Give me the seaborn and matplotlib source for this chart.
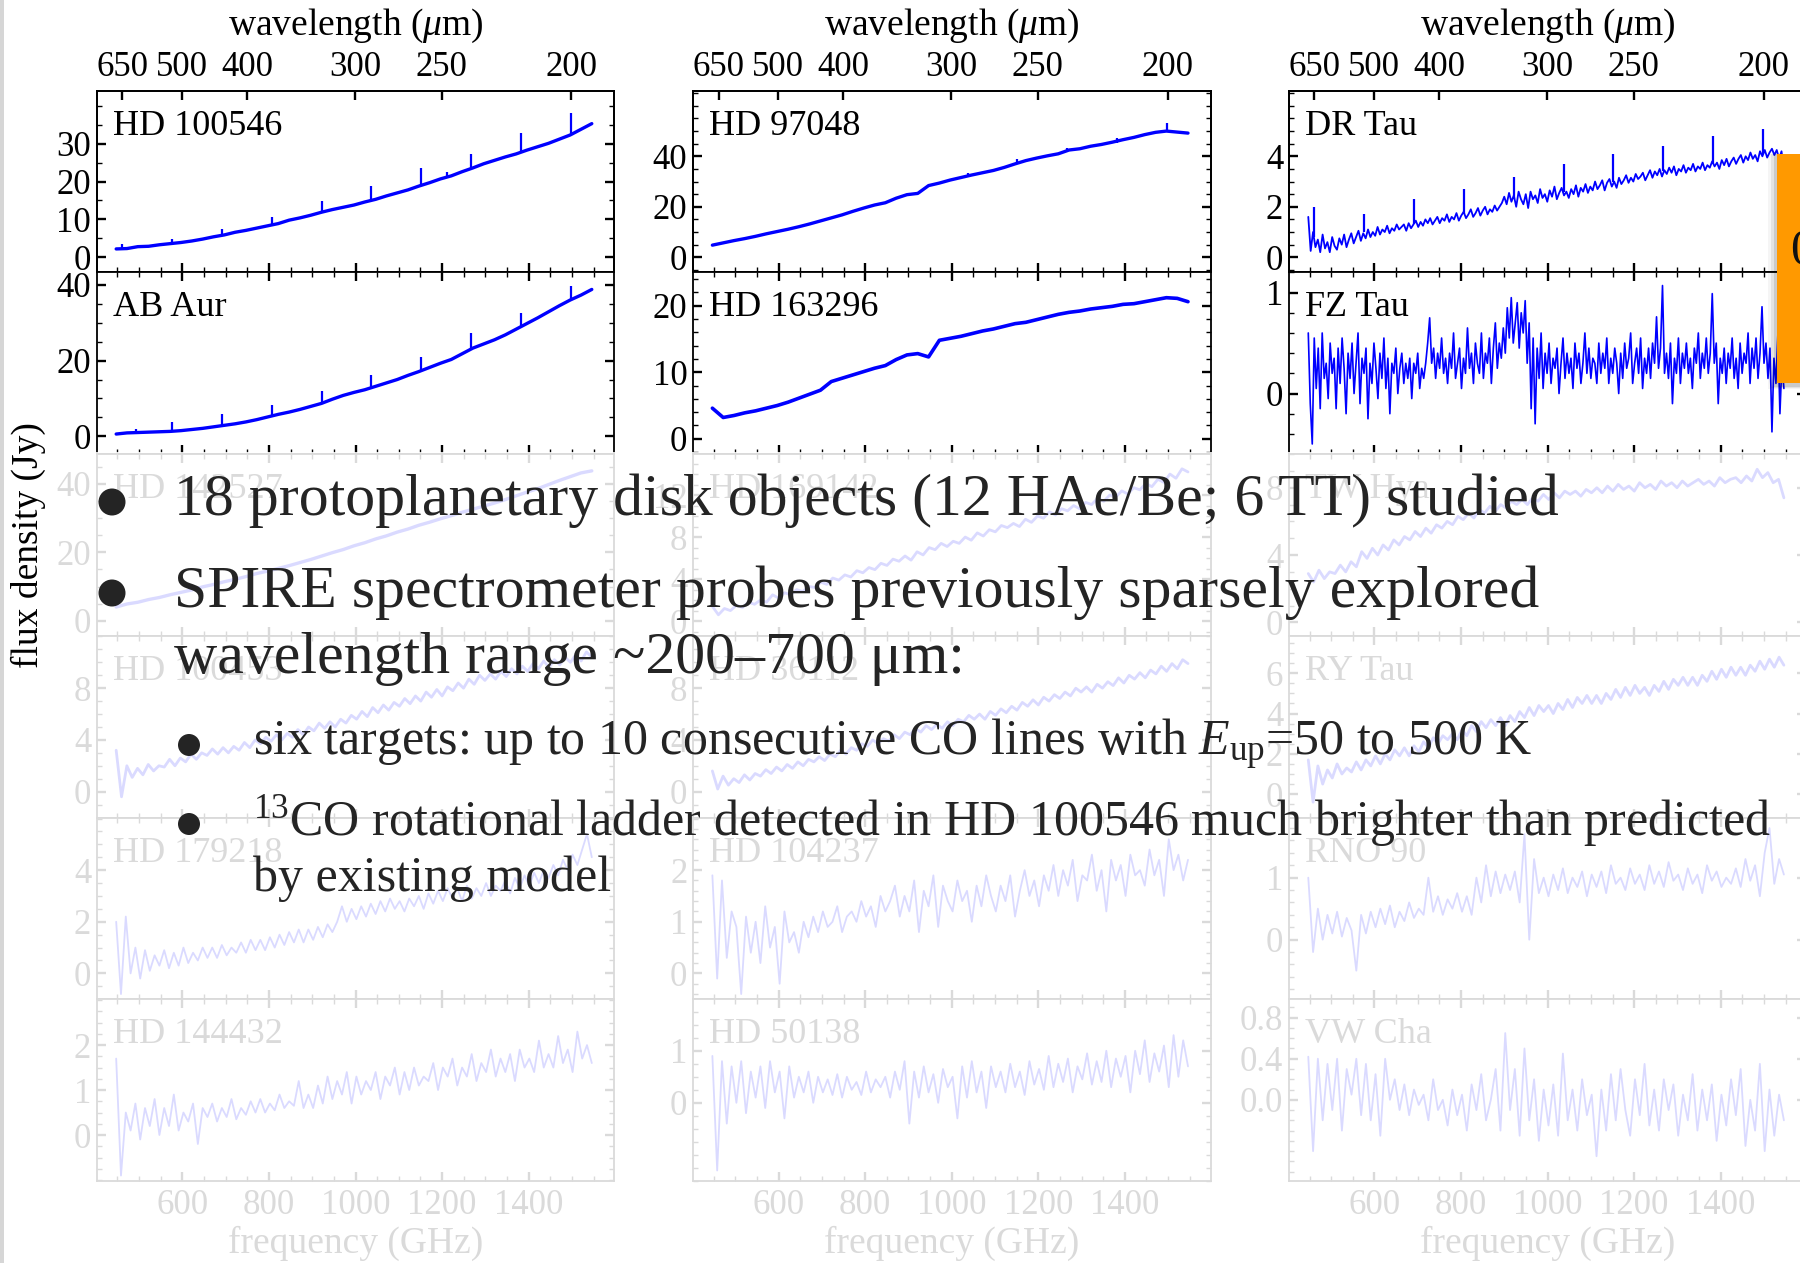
import numpy as np
import matplotlib
matplotlib.use("Agg")
import matplotlib.pyplot as plt
from matplotlib.patches import Rectangle, Ellipse
from matplotlib.ticker import FixedLocator, MultipleLocator, FormatStrFormatter, NullLocator
import seaborn as sns

# ---------------------------------------------------------------- data
# SPIRE FTS channels span 447-1546 GHz; every flux list below is sampled
# evenly over that band (Jy).
F_START, F_STOP = 447.0, 1546.0
C_UM_GHZ = 299792.458          # lambda[um] * nu[GHz]

CO_FREQ = [461.0, 576.3, 691.5, 806.7, 921.8, 1036.9, 1152.0, 1267.0, 1382.0, 1496.9]

HD100546 = [2.2, 2.3, 2.8, 2.9, 3.3, 3.6, 3.9, 4.3, 4.8, 5.4, 5.9, 6.6, 7.1, 7.7, 8.3,
            8.9, 9.8, 10.4, 11.1, 11.9, 12.6, 13.2, 13.8, 14.6, 15.3, 16.2, 17.0, 17.8,
            18.8, 19.7, 20.7, 21.5, 22.6, 23.6, 24.7, 25.6, 26.5, 27.3, 28.3, 29.2, 30.1,
            31.2, 32.3, 33.8, 35.3]
HD100546_LINE_FREQ = [461.0, 576.3, 691.5, 806.7, 921.8, 1036.9, 1152.0, 1211.3, 1267.0, 1382.0, 1496.9]
HD100546_LINE_BASE = [2.2, 3.6, 5.9, 8.5, 11.9, 15.0, 19.0, 21.2, 23.5, 27.9, 32.3]
HD100546_LINE_PEAK = [3.4, 4.9, 7.5, 10.7, 14.8, 18.8, 23.5, 22.5, 27.4, 32.7, 38.2]

HD97048 = [4.8, 5.7, 6.6, 7.4, 8.3, 9.3, 10.2, 11.1, 12.1, 13.2, 14.4, 15.6, 16.8, 18.2,
           19.5, 20.7, 21.6, 23.4, 24.8, 25.3, 28.4, 29.4, 30.6, 31.6, 32.6, 33.5, 34.4,
           35.6, 37.0, 38.3, 39.3, 40.2, 41.0, 42.5, 43.0, 44.0, 44.7, 45.6, 46.6, 47.5,
           48.6, 49.5, 50.0, 49.6, 49.2]
HD97048_LINE_FREQ = [1036.9, 1152.0, 1267.0, 1382.0, 1496.9]
HD97048_LINE_BASE = [32.0, 37.1, 42.3, 45.3, 50.0]
HD97048_LINE_PEAK = [33.5, 39.0, 43.4, 47.4, 53.1]

DR_TAU = [1.6, 0.25, 1.0, 0.4, 0.7, 0.2, 0.9, 0.35, 0.6, 0.2,
          0.8, 0.45, 0.3, 0.75, 0.5, 0.9, 0.4, 0.7, 0.95, 0.55,
          0.8, 1.05, 0.65, 0.95, 0.75, 1.1, 0.8, 1.0, 0.85, 1.2,
          0.9, 1.1, 1.0, 1.25, 0.95, 1.15, 1.05, 1.3, 1.1, 1.2,
          1.3, 1.05, 1.35, 1.15, 1.3, 1.45, 1.2, 1.4, 1.25, 1.5,
          1.35, 1.55, 1.3, 1.45, 1.6, 1.35, 1.55, 1.45, 1.7, 1.4,
          1.6, 1.5, 1.75, 1.45, 1.65, 1.8, 1.55, 1.7, 1.9, 1.6,
          1.75, 1.95, 1.65, 1.85, 2.0, 1.7, 1.9, 1.8, 2.05, 1.85,
          2.0, 2.15, 2.4, 2.1, 2.55, 2.2, 2.45, 2.0, 2.6, 2.3,
          2.1, 2.5, 1.95, 2.6, 2.3, 2.45, 2.15, 2.7, 2.35, 2.5,
          2.2, 2.65, 2.4, 2.8, 2.3, 2.55, 2.75, 2.45, 2.6, 2.35,
          2.7, 2.5, 2.85, 2.4, 2.75, 2.6, 2.9, 2.55, 2.8, 2.65,
          3.0, 2.7, 2.85, 3.05, 2.65, 2.95, 3.1, 2.8, 3.0, 2.75,
          3.15, 2.9, 3.05, 3.25, 2.95, 3.15, 3.0, 3.3, 3.1, 3.2,
          3.35, 3.05, 3.25, 3.45, 3.15, 3.4, 3.25, 3.5, 3.2, 3.45,
          3.3, 3.55, 3.35, 3.6, 3.25, 3.5, 3.4, 3.65, 3.35, 3.55,
          3.45, 3.7, 3.4, 3.6, 3.5, 3.75, 3.45, 3.65, 3.55, 3.8,
          3.6, 3.75, 3.5, 3.85, 3.65, 3.9, 3.6, 3.8, 3.95, 3.7,
          3.9, 4.05, 3.75, 4.0, 3.85, 4.15, 3.9, 4.05, 3.8, 4.2,
          4.0, 4.25, 3.95, 4.15, 4.3, 4.05, 4.25, 3.9, 4.2, 3.5]
DR_TAU_LINE_BASE = [0.8, 1.0, 1.3, 1.7, 2.3, 2.6, 3.0, 3.4, 3.7, 4.1]
DR_TAU_LINE_PEAK = [2.0, 1.7, 2.3, 2.7, 3.2, 3.7, 4.1, 4.4, 4.8, 5.1]

AB_AUR = [0.6, 0.9, 1.0, 1.1, 1.2, 1.3, 1.5, 1.8, 2.1, 2.5, 2.9, 3.3, 3.8, 4.4, 5.1,
          5.8, 6.4, 7.1, 7.9, 8.7, 9.8, 10.8, 11.6, 12.3, 13.2, 14.1, 15.0, 16.1, 17.1,
          18.2, 19.3, 20.3, 21.8, 23.3, 24.4, 25.5, 26.8, 28.3, 29.8, 31.3, 32.9, 34.5,
          36.0, 37.3, 38.8]
AB_AUR_LINE_FREQ = [492.2, 576.3, 691.5, 806.7, 921.8, 1036.9, 1152.0, 1267.0, 1382.0, 1496.9]
AB_AUR_LINE_BASE = [1.0, 1.3, 2.9, 5.2, 8.7, 12.8, 17.3, 23.0, 28.8, 36.0]
AB_AUR_LINE_PEAK = [1.8, 3.7, 5.9, 8.3, 12.1, 16.3, 21.0, 27.2, 32.5, 39.7]

HD163296 = [4.6, 3.2, 3.5, 3.9, 4.2, 4.6, 5.0, 5.5, 6.1, 6.7, 7.3, 8.6, 9.1, 9.6, 10.1,
            10.6, 11.0, 11.9, 12.6, 12.8, 12.3, 14.8, 15.1, 15.4, 15.8, 16.2, 16.5, 16.9,
            17.3, 17.5, 17.9, 18.3, 18.7, 19.0, 19.2, 19.5, 19.7, 19.9, 20.2, 20.3, 20.6,
            20.9, 21.2, 21.1, 20.6]

FZ_TAU = [0.6, -0.1, -0.5, 0.55, 0.05, 0.45, -0.15, 0.6, 0.15, 0.3,
          -0.05, 0.5, 0.2, 0.35, -0.15, 0.45, 0.1, 0.55, 0.25, -0.2,
          0.4, 0.15, 0.5, 0.0, 0.3, 0.6, -0.1, 0.35, 0.2, 0.45,
          -0.25, 0.3, 0.1, 0.5, 0.25, -0.05, 0.4, 0.15, 0.55, 0.05,
          0.35, -0.2, 0.3, 0.2, 0.45, 0.0, 0.25, 0.4, 0.1, 0.3,
          0.15, 0.35, -0.05, 0.3, 0.2, 0.4, 0.05, 0.25, 0.15, 0.3,
          0.5, 0.75, 0.3, 0.45, 0.15, 0.4, 0.25, 0.55, 0.2, 0.35,
          0.1, 0.4, 0.25, 0.6, 0.15, 0.3, 0.45, 0.05, 0.35, 0.2,
          0.65, 0.25, 0.4, 0.1, 0.5, 0.3, 0.2, 0.6, 0.15, 0.4,
          0.3, 0.55, 0.1, 0.45, 0.7, 0.25, 0.5, 0.35, 0.65, 0.4,
          0.85, 0.55, 0.95, 0.5, 0.7, 0.9, 0.45, 0.8, 0.6, 0.92,
          0.3, 0.7, -0.15, 0.55, -0.3, 0.45, 0.15, 0.6, 0.05, 0.4,
          0.2, 0.5, 0.1, 0.35, 0.25, 0.45, 0.0, 0.3, 0.55, 0.15,
          0.4, 0.2, 0.35, 0.05, 0.5, 0.25, 0.4, 0.1, 0.3, 0.6,
          0.2, 0.45, 0.15, 0.35, 0.3, 0.1, 0.5, 0.2, 0.4, 0.25,
          0.55, 0.1, 0.35, 0.2, 0.45, 0.3, 0.0, 0.4, 0.15, 0.5,
          0.25, 0.35, 0.6, 0.1, 0.3, 0.45, 0.2, 0.55, 0.05, 0.35,
          0.2, 0.45, 0.15, 0.5, 0.3, 0.76, 0.25, 0.45, 1.07, 0.2,
          0.4, 0.15, 0.5, -0.1, 0.35, 0.2, 0.55, 0.1, 0.4, 0.25,
          0.5, 0.2, 0.35, 0.05, 0.45, 0.3, 0.6, 0.15, 0.4, 0.25,
          0.55, 0.2, 0.4, 0.99, 0.3, 0.5, -0.1, 0.35, 0.2, 0.45,
          0.1, 0.4, 0.25, 0.55, 0.15, 0.35, 0.05, 0.5, 0.2, 0.4,
          0.3, 0.6, 0.1, 0.45, 0.25, 0.55, 0.15, 0.4, 0.86, 0.3,
          0.5, 0.15, 0.45, -0.38, 0.35, 0.1, 0.6, -0.2, 0.3, 0.05]

HD142527 = [4.0, 4.9, 5.4, 6.2, 6.8, 7.6, 8.3, 9.0, 9.9, 10.6, 11.4, 12.1, 12.9, 13.8,
            14.5, 15.3, 16.1, 17.0, 17.9, 18.9, 19.9, 20.8, 21.9, 22.8, 23.9, 24.8, 25.9,
            26.8, 27.9, 28.8, 29.8, 30.7, 31.7, 32.6, 33.5, 34.4, 35.4, 36.5, 37.6, 38.6,
            39.8, 41.0, 42.1, 43.2, 43.8]

HD169142 = [1.4, 0.6, 1.2, 1.0, 1.5, 1.3, 1.8, 1.6, 2.0, 1.8,
            2.5, 2.2, 2.7, 2.5, 3.0, 2.8, 3.3, 3.2, 3.7, 3.5,
            4.1, 3.9, 4.4, 4.2, 4.8, 4.6, 5.1, 4.9, 5.5, 5.3,
            5.9, 5.7, 6.2, 5.8, 6.6, 6.3, 7.0, 6.8, 7.4, 7.1,
            7.6, 7.4, 8.0, 7.7, 8.4, 8.1, 8.7, 8.5, 9.1, 8.9,
            9.3, 9.0, 9.7, 9.4, 10.0, 9.8, 10.4, 10.1, 10.7, 10.5,
            11.0, 10.7, 11.3, 11.1, 11.7, 11.4, 12.0, 11.8, 12.4, 12.1,
            12.7, 12.5, 13.1, 12.8, 13.5, 13.2, 14.0, 13.6, 14.5, 14.2]

TW_HYA = [2.9, 2.4, 3.1, 2.6, 3.0, 2.9, 3.4, 3.0, 3.6, 3.3,
          4.2, 3.8, 4.4, 4.0, 4.6, 4.3, 4.9, 4.6, 5.1, 4.9,
          5.4, 5.1, 5.6, 5.3, 5.8, 5.6, 6.0, 5.8, 6.3, 6.1,
          6.5, 6.2, 6.7, 6.5, 6.9, 6.6, 7.0, 6.8, 7.2, 7.0,
          7.3, 7.0, 7.4, 7.2, 7.6, 7.3, 7.7, 7.4, 7.8, 7.6,
          7.8, 7.5, 7.9, 7.7, 8.0, 7.7, 8.1, 7.8, 8.2, 7.9,
          8.1, 7.8, 8.3, 8.0, 8.2, 7.9, 8.4, 8.1, 8.3, 8.0,
          8.4, 8.1, 8.3, 8.5, 8.2, 8.4, 8.1, 8.6, 8.3, 8.5,
          8.6, 8.3, 8.7, 8.4, 9.1, 8.6, 8.9, 8.3, 8.5, 7.4]

HD100453 = [3.2, -0.4, 2.0, 1.1, 1.8, 1.3, 2.1, 1.6, 2.0, 1.9,
            2.5, 2.0, 2.6, 2.3, 2.9, 2.5, 3.0, 2.8, 3.3, 2.9,
            3.4, 3.0, 3.5, 3.2, 3.8, 3.4, 4.0, 3.7, 4.2, 3.9,
            4.4, 4.0, 4.5, 4.2, 4.8, 4.4, 5.0, 4.7, 5.3, 4.9,
            5.4, 5.0, 5.6, 5.3, 5.9, 5.6, 6.2, 5.8, 6.5, 6.1,
            6.7, 6.3, 6.9, 6.6, 7.2, 6.8, 7.4, 7.0, 7.7, 7.3,
            7.9, 7.4, 8.1, 7.8, 8.4, 8.0, 8.7, 8.3, 9.0, 8.6,
            9.1, 8.7, 9.3, 8.9, 9.5, 9.1, 9.7, 9.3, 9.9, 9.5,
            10.1, 9.6, 10.2, 9.8, 10.4, 10.0, 10.6, 10.1, 10.8, 10.4]

HD36112 = [1.6, 0.2, 1.2, 0.5, 1.0, 0.7, 1.3, 0.9, 1.4, 1.2,
           1.7, 1.4, 1.9, 1.6, 2.1, 1.8, 2.3, 2.0, 2.5, 2.3,
           2.7, 2.4, 2.9, 2.7, 3.2, 2.9, 3.4, 3.2, 3.7, 3.5,
           4.0, 3.7, 4.1, 3.9, 4.4, 4.1, 4.6, 4.4, 4.9, 4.6,
           5.1, 4.8, 5.2, 4.9, 5.4, 5.1, 5.6, 5.4, 5.9, 5.6,
           6.0, 5.6, 6.2, 5.9, 6.4, 6.1, 6.6, 6.3, 6.9, 6.6,
           7.1, 6.7, 7.3, 7.0, 7.5, 7.2, 7.7, 7.4, 8.0, 7.7,
           8.1, 7.7, 8.3, 8.0, 8.5, 8.2, 8.8, 8.4, 9.0, 8.7,
           9.2, 8.8, 9.4, 9.1, 9.7, 9.3, 9.9, 9.5, 10.2, 9.9]

RY_TAU = [1.7, -0.4, 1.4, 0.5, 1.2, 0.8, 1.5, 1.0, 1.3, 1.1,
          1.6, 1.2, 1.7, 1.4, 1.9, 1.5, 2.0, 1.7, 2.2, 1.9,
          2.3, 1.9, 2.4, 2.1, 2.6, 2.3, 2.8, 2.5, 2.9, 2.7,
          3.0, 2.7, 3.2, 2.9, 3.4, 3.1, 3.6, 3.3, 3.7, 3.4,
          3.8, 3.4, 3.9, 3.6, 4.1, 3.8, 4.3, 3.9, 4.4, 4.1,
          4.4, 4.0, 4.5, 4.2, 4.7, 4.3, 4.8, 4.5, 4.9, 4.5,
          4.9, 4.5, 5.0, 4.7, 5.2, 4.8, 5.3, 4.9, 5.4, 5.0,
          5.3, 4.9, 5.4, 5.1, 5.6, 5.2, 5.7, 5.4, 5.8, 5.4,
          5.8, 5.4, 5.9, 5.6, 6.1, 5.7, 6.2, 5.8, 6.3, 5.9,
          6.3, 5.9, 6.4, 6.1, 6.6, 6.2, 6.7, 6.3, 6.8, 6.4]

HD179218 = [2.0, -0.8, 2.2, 0.0, 1.0, -0.2, 0.9, 0.1, 0.7, 0.3,
            0.9, 0.2, 0.8, 0.3, 1.0, 0.4, 0.8, 0.5, 1.0, 0.6,
            1.0, 0.6, 1.1, 0.7, 1.0, 0.8, 1.2, 0.8, 1.3, 0.9,
            1.3, 0.9, 1.4, 1.0, 1.5, 1.1, 1.6, 1.2, 1.7, 1.2,
            1.7, 1.3, 1.8, 1.4, 1.9, 1.6, 2.0, 2.6, 2.0, 2.5,
            2.1, 2.6, 2.2, 2.7, 2.3, 2.8, 2.4, 2.9, 2.5, 2.8,
            2.4, 2.9, 2.6, 3.0, 2.5, 3.1, 2.7, 3.2, 2.8, 3.3,
            2.9, 3.3, 2.8, 3.4, 2.9, 3.3, 3.0, 3.5, 3.0, 3.4,
            3.2, 3.6, 3.1, 3.7, 3.3, 3.8, 3.4, 3.9, 3.5, 4.0,
            3.7, 4.2, 3.8, 4.4, 4.0, 4.6, 4.2, 4.8, 5.4, 4.5]

HD104237 = [1.9, -0.1, 1.8, 0.3, 1.2, 0.9, -0.4, 1.1, 0.4, 1.0,
            0.2, 1.3, 0.5, 0.9, -0.2, 1.2, 0.6, 0.8, 0.4, 1.0,
            0.7, 1.1, 0.8, 1.2, 0.9, 1.0, 1.3, 0.8, 1.1, 1.2,
            1.0, 1.4, 1.1, 1.3, 0.9, 1.5, 1.2, 1.4, 1.7, 1.1,
            1.5, 1.2, 1.8, 0.8, 1.6, 1.3, 1.9, 0.9, 1.7, 1.4,
            1.2, 1.8, 1.4, 1.6, 1.0, 1.7, 1.3, 1.9, 1.5, 1.2,
            1.7, 1.4, 1.9, 1.1, 1.6, 2.0, 1.5, 1.8, 1.3, 1.9,
            1.6, 2.1, 1.5, 2.0, 1.7, 2.2, 1.4, 1.9, 1.8, 2.3,
            1.6, 2.0, 1.2, 2.2, 1.8, 2.1, 1.5, 2.3, 1.9, 2.0,
            1.7, 2.4, 1.9, 2.2, 1.5, 2.6, 2.0, 2.3, 1.8, 2.2]

RNO90 = [1.0, -0.2, 0.5, 0.0, 0.4, 0.1, 0.45, 0.05, 0.35, 0.15,
         -0.5, 0.4, 0.1, 0.45, 0.2, 0.5, 0.25, 0.55, 0.2, 0.45,
         0.3, 0.6, 0.35, 0.5, 0.4, 1.0, 0.45, 0.7, 0.4, 0.65,
         0.5, 0.75, 0.45, 0.7, 0.4, 1.0, 0.6, 1.2, 0.7, 1.1,
         0.75, 1.05, 0.8, 1.1, 0.6, 1.7, 0.0, 1.3, 0.75, 1.0,
         0.7, 1.05, 0.8, 1.15, 0.75, 1.0, 0.85, 1.1, 0.7, 1.05,
         0.85, 1.1, 0.75, 1.2, 0.9, 1.0, 0.8, 1.15, 0.9, 1.05,
         0.8, 1.2, 0.9, 1.1, 0.85, 1.25, 0.95, 1.05, 0.8, 1.15,
         0.9, 1.05, 0.75, 1.2, 0.95, 1.1, 0.85, 1.0, 0.9, 1.15,
         0.85, 1.3, 0.95, 1.2, 0.7, 1.4, 1.8, 0.9, 1.3, 1.05]

HD144432 = [1.7, -0.9, 0.5, 0.1, 0.7, -0.1, 0.6, 0.2, 0.8, 0.0,
            0.6, 0.2, 0.9, 0.1, 0.5, 0.3, 0.7, -0.2, 0.6, 0.4,
            0.7, 0.3, 0.6, 0.4, 0.8, 0.35, 0.6, 0.45, 0.75, 0.5,
            0.8, 0.5, 0.7, 0.55, 0.9, 0.6, 0.75, 0.65, 1.2, 0.6,
            0.9, 0.6, 1.1, 0.7, 1.3, 0.8, 1.2, 0.9, 1.4, 0.7,
            1.3, 0.9, 1.2, 1.0, 1.4, 0.8, 1.3, 1.1, 1.5, 0.9,
            1.4, 1.0, 1.5, 1.1, 1.3, 1.2, 1.6, 1.0, 1.5, 1.3,
            1.7, 1.1, 1.5, 1.3, 1.8, 1.2, 1.6, 1.4, 1.9, 1.3,
            1.7, 1.4, 1.8, 1.2, 1.9, 1.5, 1.7, 1.4, 2.1, 1.5,
            1.8, 1.5, 2.2, 1.6, 1.9, 1.4, 2.3, 1.7, 2.0, 1.6]

HD50138 = [0.9, -1.3, 0.8, -0.4, 0.7, 0.0, 0.8, -0.2, 0.6, 0.1,
           0.7, -0.1, 0.8, 0.2, 0.6, -0.3, 0.7, 0.1, 0.5, 0.2,
           0.6, 0.0, 0.5, 0.2, 0.45, 0.15, 0.55, 0.1, 0.5, 0.25,
           0.4, 0.15, 0.6, 0.2, 0.45, 0.3, 0.5, 0.1, 0.6, 0.25,
           0.8, -0.4, 0.6, 0.1, 0.7, 0.2, 0.55, 0.0, 0.65, 0.3,
           0.5, -0.3, 0.7, 0.1, 0.8, 0.2, 0.6, -0.1, 0.7, 0.3,
           0.6, 0.2, 0.75, 0.3, 0.6, 0.15, 0.8, 0.35, 0.65, 0.25,
           0.9, 0.3, 0.75, 0.4, 0.85, 0.2, 0.7, 0.45, 0.95, 0.35,
           0.8, 0.4, 1.0, 0.3, 0.85, 0.5, 0.9, 0.2, 1.0, 0.55,
           1.2, 0.4, 0.95, 0.6, 1.1, 0.3, 1.3, 0.5, 1.2, 0.7]

VW_CHA = [0.42, -0.5, 0.4, -0.2, 0.35, -0.1, 0.4, -0.3, 0.3, 0.05,
          0.4, -0.15, 0.35, -0.2, 0.25, -0.35, 0.4, 0.0, 0.2, -0.1,
          0.15, -0.15, 0.1, -0.05, 0.05, -0.2, 0.2, -0.1, 0.0, -0.25,
          0.1, -0.15, 0.05, -0.3, 0.15, -0.1, 0.25, -0.2, 0.0, 0.3,
          -0.3, 0.65, -0.1, 0.3, -0.35, 0.5, -0.2, 0.2, -0.4, 0.1,
          -0.25, 0.15, -0.35, 0.45, -0.2, 0.1, -0.3, 0.2, -0.15, 0.05,
          -0.55, 0.1, -0.3, 0.25, -0.2, 0.3, -0.1, -0.35, 0.2, -0.15,
          0.35, -0.25, 0.1, -0.3, 0.2, -0.1, 0.15, -0.35, 0.05, -0.2,
          0.25, -0.3, 0.1, -0.2, 0.15, -0.4, 0.05, -0.25, 0.2, -0.15,
          0.3, -0.45, 0.0, -0.3, 0.35, -0.5, 0.1, -0.35, 0.05, -0.2]

FREQ_MAJOR = [600, 800, 1000, 1200, 1400]
FREQ_MINOR = [450, 500, 550, 600, 650, 700, 750, 800, 850, 900, 950, 1000, 1050,
              1100, 1150, 1200, 1250, 1300, 1350, 1400, 1450, 1500, 1550]
WAVELENGTH_TICKS = [650, 500, 400, 300, 250, 200]


def panel(name, flux, ylim, yticks, yminor, fmt="%d", lines=None, lw=1.3):
    return dict(name=name, flux=flux, ylim=ylim, yticks=yticks, yminor=yminor,
                fmt=fmt, lines=lines, lw=lw)


PANELS = [
    [panel("HD 100546", HD100546, (-4, 44), [0, 10, 20, 30], 5,
           lines=(HD100546_LINE_FREQ, HD100546_LINE_BASE, HD100546_LINE_PEAK), lw=2.4),
     panel("HD 97048", HD97048, (-6, 66), [0, 20, 40], 5,
           lines=(HD97048_LINE_FREQ, HD97048_LINE_BASE, HD97048_LINE_PEAK), lw=2.4),
     panel("DR Tau", DR_TAU, (-0.6, 6.6), [0, 2, 4], 0.5,
           lines=(CO_FREQ, DR_TAU_LINE_BASE, DR_TAU_LINE_PEAK), lw=1.3)],
    [panel("AB Aur", AB_AUR, (-4.7, 43.3), [0, 20, 40], 5,
           lines=(AB_AUR_LINE_FREQ, AB_AUR_LINE_BASE, AB_AUR_LINE_PEAK), lw=2.4),
     panel("HD 163296", HD163296, (-2.3, 25), [0, 10, 20], 2, lw=2.6),
     panel("FZ Tau", FZ_TAU, (-0.6, 1.2), [0, 1], 0.2, lw=1.2)],
    [panel("HD 142527", HD142527, (-4.4, 48.7), [0, 20, 40], 5, lw=2.4),
     panel("HD 169142", HD169142, (-1.4, 15.9), [0, 4, 8, 12], 1, lw=2.0),
     panel("TW Hya", TW_HYA, (-0.8, 10.0), [0, 4, 8], 1, lw=2.0)],
    [panel("HD 100453", HD100453, (-2.0, 12.05), [0, 4, 8], 1, lw=2.0),
     panel("HD 36112", HD36112, (-2.0, 12.05), [0, 4, 8], 1, lw=2.0),
     panel("RY Tau", RY_TAU, (-1.16, 7.86), [0, 2, 4, 6], 0.5, lw=2.0)],
    [panel("HD 179218", HD179218, (-1.0, 6.04), [0, 2, 4], 0.5),
     panel("HD 104237", HD104237, (-0.5, 3.02), [0, 1, 2], 0.2),
     panel("RNO 90", RNO90, (-0.96, 1.97), [0, 1], 0.2)],
    [panel("HD 144432", HD144432, (-1.02, 3.02), [0, 1, 2], 0.25),
     panel("HD 50138", HD50138, (-1.5, 1.99), [0, 1], 0.25),
     panel("VW Cha", VW_CHA, (-0.79, 0.98), [0.0, 0.4, 0.8], 0.1, fmt="%.1f")],
]

# ---------------------------------------------------------------- style
sns.set_theme(style="ticks")
plt.rcParams.update({
    "font.family": ["Liberation Serif", "DejaVu Serif"],
    "mathtext.fontset": "custom",
    "mathtext.rm": "Liberation Serif",
    "mathtext.it": "Liberation Serif:italic",
    "mathtext.bf": "Liberation Serif:bold",
    "axes.edgecolor": "black",
    "axes.linewidth": 1.3,
    "xtick.color": "black",
    "ytick.color": "black",
    "text.color": "black",
})

BLUE = "#0000FF"
W, H = 1800, 1263
fig = plt.figure(figsize=(W / 100, H / 100), dpi=100)
fig.patch.set_facecolor("white")

COL_LEFT = [96.7, 692.9, 1288.8]
COL_W = 517.6
ROW_TOP = 90.7
ROW_H = 181.7
XLIM = (402, 1598)
TICK_FS = 25
NAME_FS = 26


def fig_rect(left, top, w, h):
    return [left / W, 1 - (top + h) / H, w / W, h / H]


for r, row in enumerate(PANELS):
    for c, p in enumerate(row):
        ax = fig.add_axes(fig_rect(COL_LEFT[c], ROW_TOP + r * ROW_H, COL_W, ROW_H))
        ax.set_facecolor("white")
        freq = np.linspace(F_START, F_STOP, len(p["flux"]))
        sns.lineplot(x=freq, y=p["flux"], ax=ax, color=BLUE, linewidth=p["lw"],
                     estimator=None, sort=False, legend=False)
        if p["lines"] is not None:
            lf, lb, lp = p["lines"]
            ax.vlines(lf, lb, lp, color=BLUE, linewidth=1.6)
        ax.set_xlim(*XLIM)
        ax.set_ylim(*p["ylim"])
        ax.set_xlabel("")
        ax.set_ylabel("")

        ax.xaxis.set_major_locator(FixedLocator(FREQ_MAJOR))
        ax.xaxis.set_minor_locator(FixedLocator(FREQ_MINOR))
        ax.yaxis.set_major_locator(FixedLocator(p["yticks"]))
        ax.yaxis.set_minor_locator(MultipleLocator(p["yminor"]))
        ax.yaxis.set_major_formatter(FormatStrFormatter(p["fmt"]))

        ax.tick_params(axis="both", which="both", direction="in",
                       left=True, right=True, bottom=True, top=(r > 0))
        ax.tick_params(which="major", length=6.5, width=1.7)
        ax.tick_params(which="minor", length=3.8, width=1.0)
        ax.tick_params(axis="y", labelsize=TICK_FS, pad=4, labelleft=True, labelright=False)
        ax.tick_params(axis="x", labelsize=TICK_FS, pad=5.5,
                       labelbottom=(r == len(PANELS) - 1), labeltop=False)
        for s in ax.spines.values():
            s.set_visible(True)
            s.set_color("black")
            s.set_linewidth(1.3)

        ax.text(16 / COL_W, 1 - 44 / ROW_H, p["name"], transform=ax.transAxes,
                fontsize=NAME_FS, va="baseline", ha="left")

        if r == 0:
            top = ax.twiny()
            top.set_xlim(*XLIM)
            top.xaxis.set_major_locator(FixedLocator([C_UM_GHZ / w for w in WAVELENGTH_TICKS]))
            top.set_xticklabels([str(w) for w in WAVELENGTH_TICKS])
            top.xaxis.set_minor_locator(NullLocator())
            top.tick_params(axis="x", direction="in", length=6.5, width=1.7,
                            labelsize=TICK_FS, pad=5)
            for s in top.spines.values():
                s.set_linewidth(1.3)
                s.set_color("black")
            fig.text((COL_LEFT[c] + COL_W / 2) / W, 1 - 25.5 / H, r"wavelength ($\mu$m)",
                     fontsize=27, ha="center", va="center")

        if r == len(PANELS) - 1:
            fig.text((COL_LEFT[c] + COL_W / 2) / W, 1 - 1243 / H, "frequency (GHz)",
                     fontsize=27, ha="center", va="center")

fig.text(28 / W, 1 - 545 / H, "flux density (Jy)", rotation=90, fontsize=27,
         ha="center", va="center")

# wash over the lower part of the grid
fig.add_artist(Rectangle((47 / W, 0), 1 - 47 / W, 1 - 452 / H, transform=fig.transFigure,
                         facecolor="white", edgecolor="none", alpha=0.86, zorder=5))

# slide border on the left edge
fig.add_artist(Rectangle((0, 0), 4 / W, 1, transform=fig.transFigure,
                         facecolor="#d6d6d6", edgecolor="none", zorder=12))

# orange call-out box entering from the right
for dx, a in [(9, 0.04), (6, 0.07), (3, 0.11)]:
    fig.add_artist(Rectangle(((1777 - dx) / W, 1 - (386 + dx / 3) / H), (30 + dx) / W,
                             (232 + dx / 3) / H, transform=fig.transFigure,
                             facecolor="black", edgecolor="none", alpha=a, zorder=6))
fig.add_artist(Rectangle((1777 / W, 1 - 383 / H), 30 / W, (383 - 154) / H,
                         transform=fig.transFigure, facecolor="#FF9900",
                         edgecolor="none", zorder=7))
fig.text(1790 / W, 1 - 264 / H, "0", fontsize=36, color="#111111", ha="left",
         va="baseline", zorder=8)

# bullet list
TXT = "#242424"
MAIN_FS = 43
SUB_FS = 36
for (bx, by, d) in [(112, 502, 27), (112, 593, 27), (189, 745, 22), (189, 824, 22)]:
    fig.add_artist(Ellipse((bx / W, 1 - by / H), d / W, d / H, transform=fig.transFigure,
                           facecolor=TXT, edgecolor="none", zorder=11))

fig.text(173.5 / W, 1 - 515 / H, "18 protoplanetary disk objects (12 HAe/Be; 6 TT) studied",
         fontsize=MAIN_FS, color=TXT, va="baseline", ha="left", zorder=11)
fig.text(173.5 / W, 1 - 606.7 / H, "SPIRE spectrometer probes previously sparsely explored",
         fontsize=MAIN_FS, color=TXT, va="baseline", ha="left", zorder=11)
fig.text(173.5 / W, 1 - 673 / H, "wavelength range ~200\u2013700 \u03bcm:",
         fontsize=MAIN_FS, color=TXT, va="baseline", ha="left", zorder=11)
fig.text(253 / W, 1 - 755 / H,
         r"six targets: up to 10 consecutive CO lines with $E_{\mathrm{up}}$=50 to 500 K",
         fontsize=SUB_FS, color=TXT, va="baseline", ha="left", zorder=11)
fig.text(253 / W, 1 - 835 / H,
         r"$^{13}$CO rotational ladder detected in HD 100546 much brighter than predicted",
         fontsize=SUB_FS, color=TXT, va="baseline", ha="left", zorder=11)
fig.text(253 / W, 1 - 890.7 / H, "by existing model",
         fontsize=SUB_FS, color=TXT, va="baseline", ha="left", zorder=11)

fig.savefig("out.png", dpi=100, facecolor="white")
